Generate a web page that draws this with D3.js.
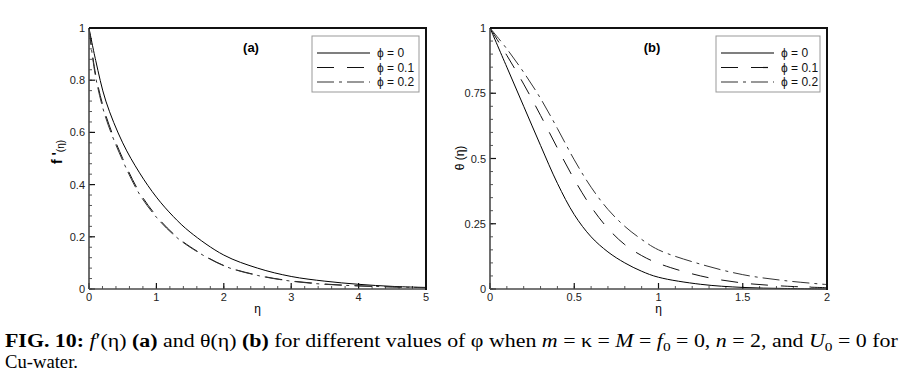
<!DOCTYPE html>
<html>
<head>
<meta charset="utf-8">
<script src="https://cdn.jsdelivr.net/npm/d3@7"></script>
<style>
  body { margin: 0; background: #fff; }
  svg { display: block; }
  .tick-label { font-family: Arial, "Liberation Sans", sans-serif; font-size: 11px; fill: #222; }
  .legend-text { font-family: Arial, "Liberation Sans", sans-serif; font-size: 12px; fill: #111; }
</style>
</head>
<body>
<div class="figure"></div>
<script>

// data
var etaA = [0, 0.1, 0.25, 0.5, 0.75, 1, 1.25, 1.5, 2, 2.5, 3, 3.5, 4, 4.5, 5]
var fPrime0 = [1, 0.875, 0.72, 0.56, 0.445, 0.352, 0.278, 0.218, 0.13, 0.08, 0.048, 0.03, 0.018, 0.01, 0.006]
var fPrime1 = [1, 0.82, 0.665, 0.5, 0.37, 0.28, 0.212, 0.162, 0.09, 0.053, 0.031, 0.019, 0.012, 0.008, 0.005]
var fPrime2 = [1, 0.81, 0.655, 0.492, 0.363, 0.275, 0.209, 0.16, 0.089, 0.052, 0.03, 0.018, 0.012, 0.008, 0.005]

var etaB = [0, 0.1, 0.2, 0.3, 0.4, 0.5, 0.6, 0.7, 0.8, 0.9, 1, 1.25, 1.5, 1.75, 2]
var theta0 = [1, 0.85, 0.7, 0.55, 0.405, 0.285, 0.2, 0.142, 0.1, 0.068, 0.045, 0.018, 0.006, 0.002, 0]
var theta1 = [1, 0.895, 0.785, 0.665, 0.54, 0.42, 0.315, 0.232, 0.17, 0.128, 0.098, 0.05, 0.023, 0.011, 0.005]
var theta2 = [1, 0.92, 0.83, 0.73, 0.615, 0.495, 0.39, 0.305, 0.24, 0.19, 0.15, 0.095, 0.055, 0.032, 0.017]

var seriesLabels = ["\u03d5 = 0", "\u03d5 = 0.1", "\u03d5 = 0.2"]
var dashes = [null, "17,13", "17,5,3,5"]
var lineColors = ["#000", "#111", "#333"]

var xTicksA = [0, 1, 2, 3, 4, 5]
var yTicksA = [0, 0.2, 0.4, 0.6, 0.8, 1]
var xTicksB = [0, 0.5, 1, 1.5, 2]
var yTicksB = [0, 0.25, 0.5, 0.75, 1]

var svg = d3.select(".figure")
  .append("svg")
    .attr("width", 904)
    .attr("height", 380)

function drawPanel(opts) {
  var x = d3.scaleLinear().domain(opts.xDomain).range([opts.left, opts.right])
  var y = d3.scaleLinear().domain([0, 1]).range([opts.bottom, opts.top])

  var g = svg.append("g")

  // minor ticks
  var xMinor = d3.range(opts.xDomain[0], opts.xDomain[1] + 1e-9, opts.xMinor)
  var yMinor = d3.range(0, 1 + 1e-9, opts.yMinor)
  g.selectAll(".xminor").data(xMinor).enter().append("line")
    .attr("x1", function(d) { return x(d) }).attr("x2", function(d) { return x(d) })
    .attr("y1", opts.bottom).attr("y2", opts.bottom - 3)
    .attr("stroke", "#555").attr("stroke-width", 1)
  g.selectAll(".yminor").data(yMinor).enter().append("line")
    .attr("y1", function(d) { return y(d) }).attr("y2", function(d) { return y(d) })
    .attr("x1", opts.left).attr("x2", opts.left + 3)
    .attr("stroke", "#555").attr("stroke-width", 1)

  // major ticks + labels
  g.selectAll(".xmajor").data(opts.xTicks).enter().append("line")
    .attr("x1", function(d) { return x(d) }).attr("x2", function(d) { return x(d) })
    .attr("y1", opts.bottom).attr("y2", opts.bottom - 6)
    .attr("stroke", "#111").attr("stroke-width", 1.2)
  g.selectAll(".ymajor").data(opts.yTicks).enter().append("line")
    .attr("y1", function(d) { return y(d) }).attr("y2", function(d) { return y(d) })
    .attr("x1", opts.left).attr("x2", opts.left + 6)
    .attr("stroke", "#111").attr("stroke-width", 1.2)

  g.selectAll(".xlab").data(opts.xTicks).enter().append("text")
    .attr("class", "tick-label")
    .attr("x", function(d) { return x(d) })
    .attr("y", opts.bottom + 12)
    .attr("text-anchor", "middle")
    .text(function(d) { return d })
  g.selectAll(".ylab").data(opts.yTicks).enter().append("text")
    .attr("class", "tick-label")
    .attr("x", opts.left - 4)
    .attr("y", function(d) { return y(d) + 4 })
    .attr("text-anchor", "end")
    .text(function(d) { return d })

  // curves
  var line = d3.line()
    .x(function(d) { return x(d[0]) })
    .y(function(d) { return y(d[1]) })
    .curve(d3.curveCatmullRom.alpha(0.5))

  opts.series.forEach(function(s, i) {
    var pts = opts.xs.map(function(v, j) { return [v, s[j]] })
    g.append("path")
      .attr("d", line(pts))
      .attr("fill", "none")
      .attr("stroke", lineColors[i])
      .attr("stroke-width", 1)
      .attr("stroke-dasharray", dashes[i])
  })

  // frame: axes grey, top/right dark
  g.append("line").attr("x1", opts.left).attr("x2", opts.right)
    .attr("y1", opts.bottom).attr("y2", opts.bottom)
    .attr("stroke", "#4a4a4a").attr("stroke-width", 1.6)
  g.append("line").attr("x1", opts.left).attr("x2", opts.left)
    .attr("y1", opts.top).attr("y2", opts.bottom)
    .attr("stroke", "#4a4a4a").attr("stroke-width", 1.6)
  g.append("line").attr("x1", opts.left).attr("x2", opts.right + 1)
    .attr("y1", opts.top).attr("y2", opts.top)
    .attr("stroke", "#111").attr("stroke-width", 2)
  g.append("line").attr("x1", opts.right).attr("x2", opts.right)
    .attr("y1", opts.top).attr("y2", opts.bottom + 1)
    .attr("stroke", "#111").attr("stroke-width", 2)

  // panel tag
  g.append("text")
    .attr("x", opts.tagX).attr("y", 52)
    .attr("text-anchor", "middle")
    .style("font-family", "Arial, 'Liberation Sans', sans-serif")
    .style("font-size", "13px").style("font-weight", "bold")
    .text(opts.tag)

  // legend
  var lg = g.append("g").attr("transform", "translate(" + opts.legendX + ",36)")
  lg.append("rect")
    .attr("width", opts.legendW).attr("height", 56)
    .attr("fill", "#fff").attr("stroke", "#999").attr("stroke-width", 1)
  seriesLabels.forEach(function(lbl, i) {
    var yy = 17 + i * 14.5
    lg.append("line")
      .attr("x1", 5).attr("x2", 58).attr("y1", yy).attr("y2", yy)
      .attr("stroke", lineColors[i]).attr("stroke-width", 1.2)
      .attr("stroke-dasharray", dashes[i])
    lg.append("text").attr("class", "legend-text")
      .attr("x", 65).attr("y", yy + 4).text(lbl)
  })

  // x label, sits just under the tick label row
  g.append("text")
    .attr("x", (opts.left + opts.right) / 2).attr("y", 313)
    .attr("text-anchor", "middle")
    .style("font-family", "Arial, 'Liberation Sans', sans-serif")
    .style("font-size", "12px")
    .text("\u03b7")

  return g
}

drawPanel({
  left: 89, right: 426, top: 28, bottom: 289,
  xDomain: [0, 5], xMinor: 0.2, yMinor: 0.04,
  xTicks: xTicksA, yTicks: yTicksA,
  xs: etaA, series: [fPrime0, fPrime1, fPrime2],
  tag: "(a)", tagX: 251, legendX: 312, legendW: 107
})

drawPanel({
  left: 490, right: 827, top: 28, bottom: 289,
  xDomain: [0, 2], xMinor: 0.1, yMinor: 0.05,
  xTicks: xTicksB, yTicks: yTicksB,
  xs: etaB, series: [theta0, theta1, theta2],
  tag: "(b)", tagX: 652, legendX: 716, legendW: 104
})

// y axis titles
var ya = svg.append("text")
  .attr("transform", "translate(62,152) rotate(-90)")
  .attr("text-anchor", "middle")
  .style("font-family", "Arial, 'Liberation Sans', sans-serif")
ya.append("tspan").style("font-size", "14px").style("font-weight", "bold").text("f '")
ya.append("tspan").style("font-size", "10px").attr("dy", 2).text("(\u03b7)")

svg.append("text")
  .attr("transform", "translate(464,158) rotate(-90)")
  .attr("text-anchor", "middle")
  .style("font-family", "Arial, 'Liberation Sans', sans-serif")
  .style("font-size", "12px")
  .text("\u03b8 (\u03b7)")

// caption
var serif = "'Liberation Serif', 'Times New Roman', serif"
var cap1 = svg.append("text").attr("x", 0).attr("y", 0)
  .style("font-family", serif).style("font-size", "18.5px").attr("fill", "#000")
var parts = [
  ["FIG. 10:", "bold"], [" ", ""], ["f", "italic"], ["\u2032(\u03b7) ", ""], ["(a)", "bold"],
  [" and \u03b8(\u03b7) ", ""], ["(b)", "bold"], [" for different values of \u03c6 when ", ""],
  ["m", "italic"], [" = \u03ba = ", ""], ["M", "italic"], [" = ", ""], ["f", "italic"], ["0", "sub"],
  [" = 0, ", ""], ["n", "italic"], [" = 2, and ", ""], ["U", "italic"], ["0", "sub"], [" = 0 for", ""]
]
var subbed = false
parts.forEach(function(p) {
  var t = cap1.append("tspan").text(p[0])
  if (p[1] == "bold") t.style("font-weight", "bold")
  if (p[1] == "italic") t.style("font-style", "italic")
  if (p[1] == "sub") { t.attr("dy", 4).style("font-size", "13px"); subbed = true }
  else if (subbed) { t.attr("dy", -4); subbed = false }
})
var w1 = cap1.node().getComputedTextLength()
cap1.attr("transform", "translate(5,347) scale(" + (893 / w1) + ",1)")

var cap2 = svg.append("text").attr("x", 0).attr("y", 0)
  .style("font-family", serif).style("font-size", "18.5px")
  .text("Cu-water.")
var w2 = cap2.node().getComputedTextLength()
cap2.attr("transform", "translate(5,368) scale(" + (73 / w2) + ",1)")

</script>
</body>
</html>
